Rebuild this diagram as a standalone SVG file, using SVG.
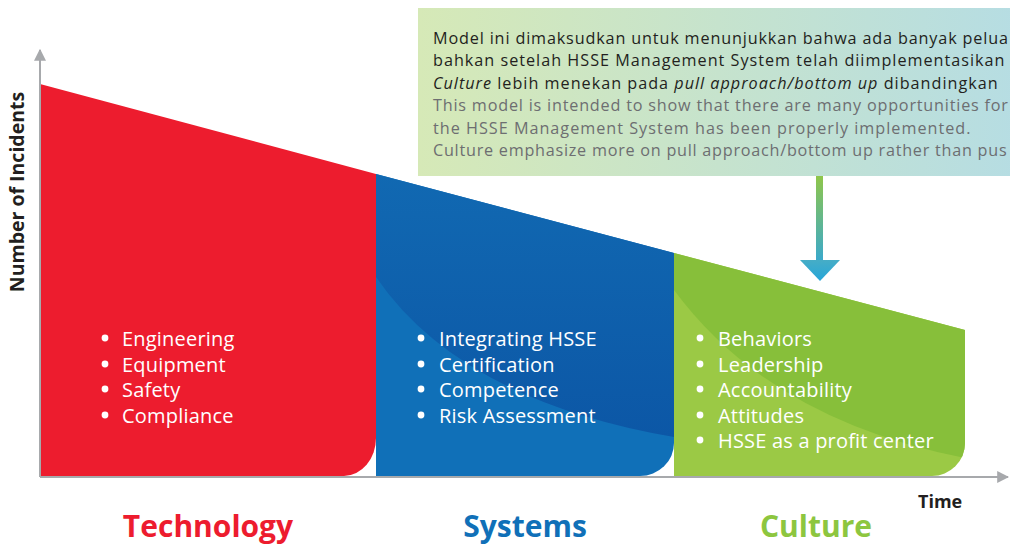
<svg xmlns="http://www.w3.org/2000/svg" width="1010" height="544" viewBox="0 0 1010 544">
<defs>
<linearGradient id="boxGrad" x1="0" y1="0" x2="1" y2="0">
<stop offset="0" stop-color="#d6e9b7"/>
<stop offset="1" stop-color="#b6dde3"/>
</linearGradient>
<linearGradient id="shaftGrad" x1="0" y1="0" x2="0" y2="1">
<stop offset="0" stop-color="#8fc64a"/>
<stop offset="1" stop-color="#3aa9cc"/>
</linearGradient>
<linearGradient id="headGrad" x1="0" y1="0" x2="0" y2="1">
<stop offset="0" stop-color="#46adc6"/>
<stop offset="1" stop-color="#26a6d9"/>
</linearGradient>
<linearGradient id="blueGrad" x1="0" y1="0" x2="0" y2="1">
<stop offset="0" stop-color="#1169b2"/>
<stop offset="1" stop-color="#0c57a6"/>
</linearGradient>
<marker id="axArrow" viewBox="0 0 10 10" refX="9" refY="5" markerWidth="6" markerHeight="6" orient="auto" markerUnits="strokeWidth">
<path d="M0,0 L10,5 L0,10 z" fill="#a7a9ac"/>
</marker>
<clipPath id="blueClip"><path d="M376,174 L674,253 L674,443 A34,33 0 0 1 640,476 L376,476 Z"/></clipPath>
<clipPath id="greenClip"><path d="M674,253 L965,330 L965,443 A33,33 0 0 1 932,476 L674,476 Z"/></clipPath>
</defs>
<style>
.bul{font-family:"Open Sans","Noto Sans",sans-serif;font-size:20px;letter-spacing:0.2px;fill:#ffffff}
.dot{fill:#ffffff}
.cat{font-family:"Open Sans","Noto Sans",sans-serif;font-size:30px;font-weight:bold}
.ax{font-family:"Open Sans","Noto Sans",sans-serif;font-weight:bold;fill:#231f20}
.note{font-family:"Open Sans","Noto Sans",sans-serif;font-size:16.2px;letter-spacing:1px}
.dk{fill:#231f20}
.gr{fill:#6d6e71}
</style>

<g id="technology">
<path d="M40,84 L376,174 L376,438 A32,38 0 0 1 344,476 L40,476 Z" fill="#ed1c2e"/>
<circle class="dot" cx="105" cy="338" r="3.4"/>
<circle class="dot" cx="105" cy="364" r="3.4"/>
<circle class="dot" cx="105" cy="389" r="3.4"/>
<circle class="dot" cx="105" cy="415" r="3.4"/>
<text class="bul" x="122" y="346">Engineering</text>
<text class="bul" x="122" y="372">Equipment</text>
<text class="bul" x="122" y="397">Safety</text>
<text class="bul" x="122" y="423">Compliance</text>
<text class="cat" x="208" y="537" text-anchor="middle" fill="#ed1c2e">Technology</text>
</g>

<g id="systems">
<g clip-path="url(#blueClip)">
<rect x="376" y="170" width="300" height="310" fill="#1070b8"/>
<path d="M376,170 L376,277 Q460,400 674,437 L674,170 Z" fill="url(#blueGrad)"/>
</g>
<circle class="dot" cx="421" cy="338" r="3.4"/>
<circle class="dot" cx="421" cy="364" r="3.4"/>
<circle class="dot" cx="421" cy="389" r="3.4"/>
<circle class="dot" cx="421" cy="415" r="3.4"/>
<text class="bul" x="439" y="346">Integrating HSSE</text>
<text class="bul" x="439" y="372">Certification</text>
<text class="bul" x="439" y="397">Competence</text>
<text class="bul" x="439" y="423">Risk Assessment</text>
<text class="cat" x="525" y="537" text-anchor="middle" fill="#1070b8">Systems</text>
</g>

<g id="culture">
<g clip-path="url(#greenClip)">
<rect x="674" y="250" width="295" height="230" fill="#9bc945"/>
<path d="M674,250 L674,290 Q770,420 965,458 L965,250 Z" fill="#87bf3a"/>
</g>
<circle class="dot" cx="700" cy="338" r="3.4"/>
<circle class="dot" cx="700" cy="364" r="3.4"/>
<circle class="dot" cx="700" cy="389" r="3.4"/>
<circle class="dot" cx="700" cy="415" r="3.4"/>
<circle class="dot" cx="700" cy="440" r="3.4"/>
<text class="bul" x="718" y="346">Behaviors</text>
<text class="bul" x="718" y="372">Leadership</text>
<text class="bul" x="718" y="397">Accountability</text>
<text class="bul" x="718" y="423">Attitudes</text>
<text class="bul" x="718" y="448">HSSE as a profit center</text>
<text class="cat" x="816" y="537" text-anchor="middle" fill="#8dc63f">Culture</text>
</g>

<g id="axes">
<line x1="40" y1="477" x2="40" y2="50" stroke="#a7a9ac" stroke-width="2" marker-end="url(#axArrow)"/>
<line x1="40" y1="477" x2="1008" y2="477" stroke="#a7a9ac" stroke-width="2" marker-end="url(#axArrow)"/>
<text class="ax" font-size="19.5" transform="translate(24,192) rotate(-90)" text-anchor="middle">Number of Incidents</text>
<text class="ax" font-size="18" x="918" y="508">Time</text>
</g>

<g id="note">
<rect x="418" y="8" width="600" height="168" fill="url(#boxGrad)"/>
<text class="note dk" x="433" y="44" style="letter-spacing:0.85px">Model ini dimaksudkan untuk menunjukkan bahwa ada banyak pelua</text>
<text class="note dk" x="433" y="66">bahkan setelah HSSE Management System telah diimplementasikan</text>
<text class="note dk" x="433" y="89"><tspan font-style="italic">Culture</tspan> lebih menekan pada <tspan font-style="italic">pull approach/bottom up</tspan> dibandingkan</text>
<text class="note gr" x="433" y="111" style="letter-spacing:0.8px">This model is intended to show that there are many opportunities for</text>
<text class="note gr" x="433" y="134">the HSSE Management System has been properly implemented.</text>
<text class="note gr" x="433" y="156" style="letter-spacing:0.75px">Culture emphasize more on pull approach/bottom up rather than pus</text>
</g>

<g id="connectors">
<rect x="816" y="176" width="7" height="85" fill="url(#shaftGrad)"/>
<path d="M800,260 L840,260 L820,281 Z" fill="url(#headGrad)"/>
</g>
</svg>
